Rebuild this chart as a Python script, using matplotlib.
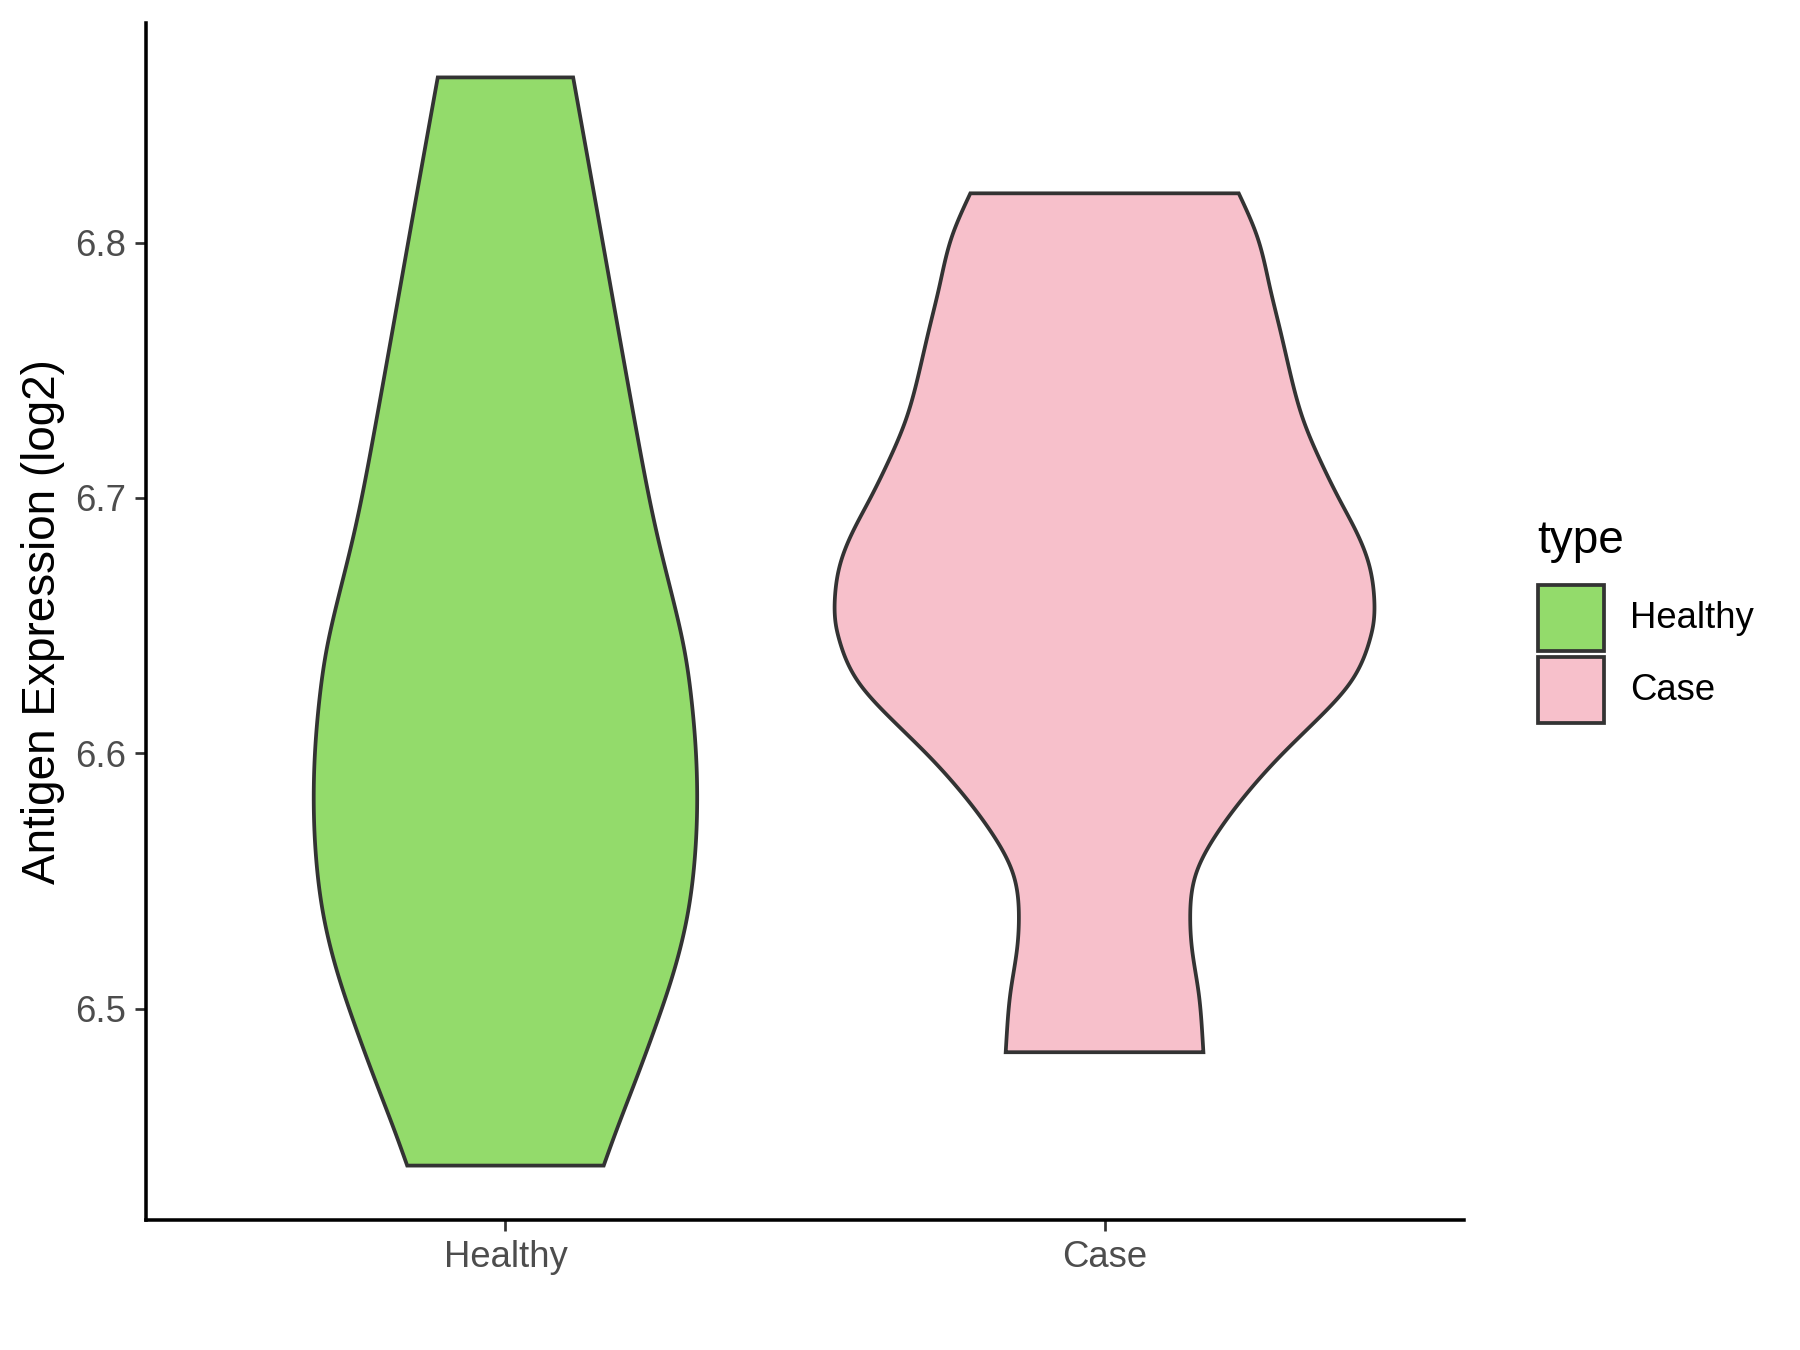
import numpy as np
import matplotlib
matplotlib.use("Agg")
import matplotlib.pyplot as plt
from matplotlib.patches import Rectangle

# ---- data ----
categories = ["Healthy", "Case"]
colors = ["#93DB6B", "#F7C0CB"]

# violin outlines: expression level (log2) and half-width (x units)
healthy_y = [6.4385, 6.4502, 6.4717, 6.4933, 6.5153, 6.5368, 6.5588, 6.5804, 6.6000,
             6.6200, 6.6400, 6.6600, 6.6828, 6.7000, 6.7246, 6.7663, 6.8085, 6.8647]
healthy_w = [0.164, 0.182, 0.217, 0.251, 0.282, 0.304, 0.316, 0.320, 0.318,
             0.311, 0.299, 0.280, 0.256, 0.240, 0.220, 0.188, 0.156, 0.113]

case_y = [6.4829, 6.4906, 6.5063, 6.5234, 6.5364, 6.5530, 6.5687, 6.5844, 6.5988,
          6.6132, 6.6276, 6.6446, 6.6496, 6.6612, 6.6743, 6.6859, 6.6990, 6.7147,
          6.7304, 6.7488, 6.7659, 6.7825, 6.8022, 6.8193]
case_w = [0.165, 0.163, 0.157, 0.146, 0.143, 0.153, 0.188, 0.238, 0.293,
          0.355, 0.410, 0.443, 0.448, 0.450, 0.441, 0.422, 0.393, 0.360,
          0.332, 0.310, 0.293, 0.276, 0.255, 0.224]

yticks = [6.5, 6.6, 6.7, 6.8]
ytick_labels = ["6.5", "6.6", "6.7", "6.8"]
ylabel = "Antigen Expression (log2)"
legend_title = "type"


def natural_spline(x, y, n=400):
    """Natural cubic spline through the read-off outline points (for a smooth edge)."""
    x = np.asarray(x, float)
    y = np.asarray(y, float)
    m = len(x)
    h = np.diff(x)
    A = np.zeros((m, m))
    b = np.zeros(m)
    A[0, 0] = A[-1, -1] = 1.0
    for i in range(1, m - 1):
        A[i, i - 1] = h[i - 1]
        A[i, i] = 2 * (h[i - 1] + h[i])
        A[i, i + 1] = h[i]
        b[i] = 6 * ((y[i + 1] - y[i]) / h[i] - (y[i] - y[i - 1]) / h[i - 1])
    M = np.linalg.solve(A, b)
    xs = np.linspace(x[0], x[-1], n)
    idx = np.clip(np.searchsorted(x, xs) - 1, 0, m - 2)
    x0, x1 = x[idx], x[idx + 1]
    hh = x1 - x0
    t0 = x1 - xs
    t1 = xs - x0
    ys = (M[idx] * t0 ** 3 / (6 * hh) + M[idx + 1] * t1 ** 3 / (6 * hh)
          + (y[idx] / hh - M[idx] * hh / 6) * t0 + (y[idx + 1] / hh - M[idx + 1] * hh / 6) * t1)
    return xs, ys


plt.rcParams['font.family'] = ['Liberation Sans', 'DejaVu Sans']
fig = plt.figure(figsize=(12, 9), dpi=150)
ax = fig.add_axes([146 / 1800, 1 - 1220 / 1350, (1464 - 146) / 1800, (1220 - 23) / 1350])

profiles = [(healthy_y, healthy_w), (case_y, case_w)]
for i, ((yy, ww), col) in enumerate(zip(profiles, colors)):
    sy, sw = natural_spline(yy, ww)
    xs = np.concatenate([i - sw, (i + sw)[::-1]])
    ys = np.concatenate([sy, sy[::-1]])
    ax.fill(xs, ys, facecolor=col, edgecolor="#333333", linewidth=1.8, joinstyle="miter", zorder=2)

ymin = min(min(healthy_y), min(case_y))
ymax = max(max(healthy_y), max(case_y))
pad = 0.05 * (ymax - ymin)
ax.set_ylim(ymin - pad, ymax + pad)
ax.set_xlim(-0.6, 1.6)

ax.set_xticks(range(len(categories)))
ax.set_xticklabels(categories)
ax.set_yticks(yticks)
ax.set_yticklabels(ytick_labels)
ax.tick_params(axis="both", colors="#333333", length=5.5, width=1.3,
               labelsize=17.5, labelcolor="#4D4D4D", pad=4)
ax.set_ylabel(ylabel, fontsize=22, color="black", labelpad=5)

for s in ["top", "right"]:
    ax.spines[s].set_visible(False)
for s in ["left", "bottom"]:
    ax.spines[s].set_linewidth(1.7)
    ax.spines[s].set_color("black")

# legend drawn manually, ggplot style
fig.text(1537 / 1800, 1 - 541 / 1350, legend_title, fontsize=22, va="center", ha="left")
key_w = 66 / 1800
key_h = 66 / 1350
tops = [585, 657]
for t, col, lab in zip(tops, colors, categories):
    fig.add_artist(Rectangle((1538 / 1800, 1 - (t + 66) / 1350), key_w, key_h,
                             transform=fig.transFigure, facecolor=col,
                             edgecolor="#333333", linewidth=1.8))
    fig.text(1630 / 1800, 1 - (t + 33) / 1350, lab, fontsize=17.5, va="center", ha="left")

fig.savefig("out.png", dpi=150, facecolor="white")
